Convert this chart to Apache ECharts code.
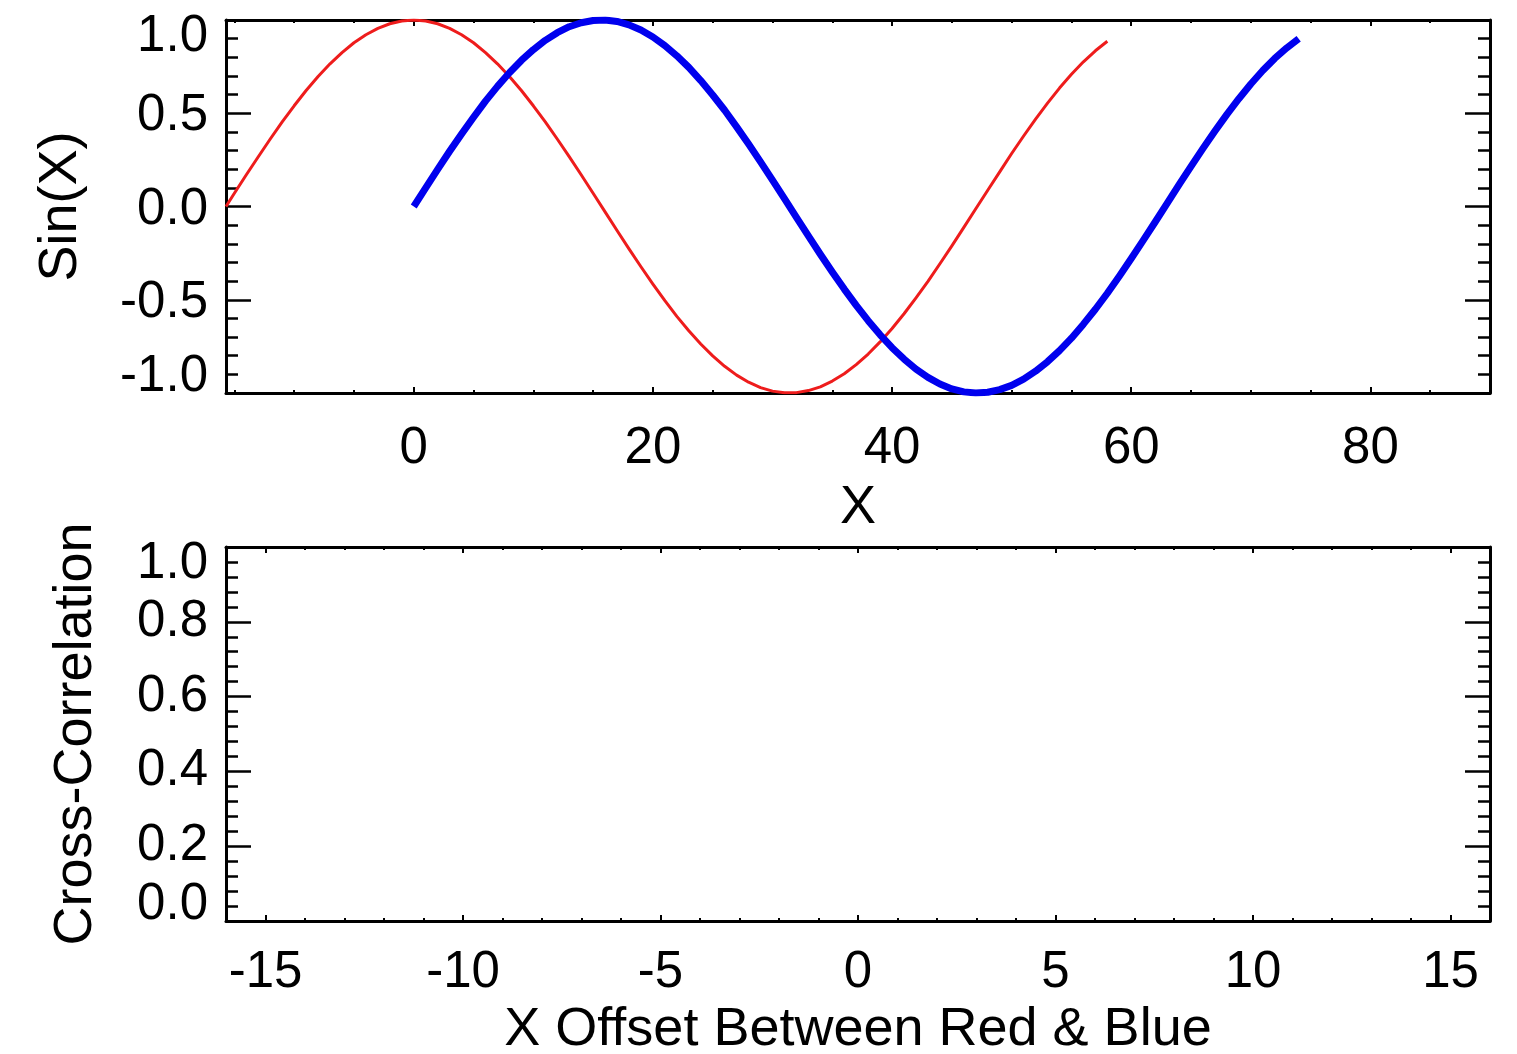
<!DOCTYPE html>
<html>
<head>
<meta charset="utf-8">
<script src="https://cdn.jsdelivr.net/npm/echarts@6/dist/echarts.min.js"></script>
<style>
html,body{margin:0;padding:0;background:#fff;}
#c{width:1517px;height:1054px;}
</style>
</head>
<body>
<div id="c"></div>
<script>
// ---- data ----
const redX = [-15.7,-15,-14,-13,-12,-11,-10,-9,-8,-7,-6,-5,-4,-3,-2,-1,0,1,2,3,4,5,6,7,8,9,10,11,12,13,14,15,16,17,18,19,20,21,22,23,24,25,26,27,28,29,30,31,32,33,34,35,36,37,38,39,40,41,42,43,44,45,46,47,48,49,50,51,52,53,54,55,56,57,58];
const redY = [0.000,0.071,0.170,0.267,0.362,0.454,0.540,0.622,0.697,0.765,0.825,0.878,0.921,0.955,0.980,0.995,1.000,0.995,0.980,0.955,0.921,0.878,0.825,0.765,0.697,0.622,0.540,0.454,0.362,0.267,0.170,0.071,-0.029,-0.129,-0.227,-0.323,-0.416,-0.505,-0.589,-0.666,-0.737,-0.801,-0.857,-0.904,-0.942,-0.971,-0.990,-0.999,-0.998,-0.987,-0.967,-0.936,-0.897,-0.848,-0.791,-0.726,-0.654,-0.575,-0.490,-0.401,-0.307,-0.211,-0.112,-0.012,0.087,0.186,0.284,0.378,0.469,0.554,0.635,0.709,0.776,0.835,0.886];
const blueX = [0,1,2,3,4,5,6,7,8,9,10,11,12,13,14,15,16,17,18,19,20,21,22,23,24,25,26,27,28,29,30,31,32,33,34,35,36,37,38,39,40,41,42,43,44,45,46,47,48,49,50,51,52,53,54,55,56,57,58,59,60,61,62,63,64,65,66,67,68,69,70,71,72,73,74];
const blueY = [0.000,0.100,0.199,0.296,0.389,0.479,0.565,0.644,0.717,0.783,0.841,0.891,0.932,0.964,0.985,0.997,1.000,0.992,0.974,0.946,0.909,0.863,0.808,0.746,0.675,0.598,0.516,0.427,0.335,0.239,0.141,0.042,-0.058,-0.158,-0.256,-0.351,-0.443,-0.530,-0.612,-0.688,-0.757,-0.818,-0.872,-0.916,-0.952,-0.978,-0.994,-1.000,-0.996,-0.982,-0.959,-0.926,-0.883,-0.832,-0.773,-0.706,-0.631,-0.551,-0.465,-0.374,-0.279,-0.182,-0.083,0.017,0.117,0.215,0.312,0.405,0.494,0.578,0.657,0.729,0.794,0.850,0.899];
const crossX = [];   // cross-correlation panel is empty
const crossY = [];

const topXMajor = [0,20,40,60,80];
const topXMinor = [-15,-10,-5,5,10,15,25,30,35,45,50,55,65,70,75,85,90];
const botXMajor = [-15,-10,-5,0,5,10,15];
const botXMinor = [-16,-14,-13,-12,-11,-9,-8,-7,-6,-4,-3,-2,-1,1,2,3,4,6,7,8,9,11,12,13,14,16];

const FONT = "'Liberation Sans', Arial, Helvetica, sans-serif";
const LBL = 51, TTL = 54;

function zip(xs, ys){ return xs.map((x,i)=>[x, ys[i]]); }

function xAxisSet(gridIndex, min, max, major, minor, name, nameGap, labelMargin){
  const base = {
    type:'value', gridIndex, min, max, splitLine:{show:false},
  };
  return [
    Object.assign({}, base, {
      position:'bottom',
      axisLine:{show:true, onZero:false, lineStyle:{color:'#000', width:3}},
      axisTick:{show:true, inside:true, length:6, customValues:major, lineStyle:{color:'#000', width:2}},
      axisLabel:{show:true, customValues:major, margin:labelMargin, fontSize:LBL, fontFamily:FONT, color:'#000'},
      name, nameLocation:'middle', nameGap,
      nameTextStyle:{fontSize:TTL, fontFamily:FONT, color:'#000'}
    }),
    Object.assign({}, base, {
      position:'bottom',
      axisLine:{show:false, onZero:false},
      axisTick:{show:true, inside:true, length:3, customValues:minor, lineStyle:{color:'#000', width:2}},
      axisLabel:{show:false}
    }),
    Object.assign({}, base, {
      position:'top',
      axisLine:{show:true, onZero:false, lineStyle:{color:'#000', width:3}},
      axisTick:{show:true, inside:true, length:6, customValues:major, lineStyle:{color:'#000', width:2}},
      axisLabel:{show:false}
    }),
    Object.assign({}, base, {
      position:'top',
      axisLine:{show:false, onZero:false},
      axisTick:{show:true, inside:true, length:3, customValues:minor, lineStyle:{color:'#000', width:2}},
      axisLabel:{show:false}
    })
  ];
}

function richStyle(pad){
  return {fontSize:LBL, fontFamily:FONT, color:'#000', padding:pad};
}

function yAxisSet(gridIndex, min, max, interval, name, nameGap, midPad){
  const base = {
    type:'value', gridIndex, min, max, interval, splitLine:{show:false},
    axisTick:{show:true, inside:true, length:25, lineStyle:{color:'#000', width:2.5}},
    minorTick:{show:true, splitNumber:5, length:12, lineStyle:{color:'#000', width:2.5}},
    axisLine:{show:true, onZero:false, lineStyle:{color:'#000', width:3}}
  };
  return [
    Object.assign({}, base, {
      position:'left',
      axisLabel:{
        show:true, margin:18, fontSize:LBL, fontFamily:FONT, color:'#000',
        formatter:function(v){
          const s = v.toFixed(1);
          if (Math.abs(v - max) < 1e-9) return '{hi|' + s + '}';
          if (Math.abs(v - min) < 1e-9) return '{lo|' + s + '}';
          return '{mid|' + s + '}';
        },
        rich:{hi:richStyle([34,0,0,0]), lo:richStyle([0,0,32,0]), mid:richStyle(midPad)}
      },
      name, nameLocation:'middle', nameGap, nameRotate:90,
      nameTextStyle:{fontSize:TTL, fontFamily:FONT, color:'#000'}
    }),
    Object.assign({}, base, {
      position:'right',
      axisLabel:{show:false}
    })
  ];
}

const xAxes = [].concat(
  xAxisSet(0, -15.7, 90, topXMajor, topXMinor, 'X', 88, 30),
  xAxisSet(1, -16, 16, botXMajor, botXMinor, 'X Offset Between Red & Blue', 82, 26)
);
const yAxes = [].concat(
  yAxisSet(0, -1, 1, 0.5, 'Sin(X)', 138, [6,0,0,0]),
  yAxisSet(1, 0, 1, 0.2, 'Cross-Correlation', 123, [0,0,0,0])
);

const option = {
  backgroundColor:'#fff',
  animation:false,
  grid:[
    {left:226, top:20, width:1264, height:373, outerBoundsMode:'none', containLabel:false},
    {left:226, top:547, width:1264, height:374, outerBoundsMode:'none', containLabel:false}
  ],
  xAxis: xAxes,
  yAxis: yAxes,
  series:[
    {type:'line', name:'Red', xAxisIndex:0, yAxisIndex:0, data:zip(redX, redY), smooth:false, showSymbol:false,
     lineStyle:{color:'#ee1c1c', width:3, join:'round'}, clip:true},
    {type:'line', name:'Blue', xAxisIndex:0, yAxisIndex:0, data:zip(blueX, blueY), smooth:false, showSymbol:false,
     lineStyle:{color:'#0000ee', width:7, join:'round'}, clip:true},
    {type:'line', name:'Cross-Correlation', xAxisIndex:4, yAxisIndex:2, data:zip(crossX, crossY), showSymbol:false,
     lineStyle:{color:'#000', width:3}}
  ]
};

const chart = echarts.init(document.getElementById('c'), null, {renderer:'canvas'});
chart.setOption(option);
</script>
</body>
</html>
